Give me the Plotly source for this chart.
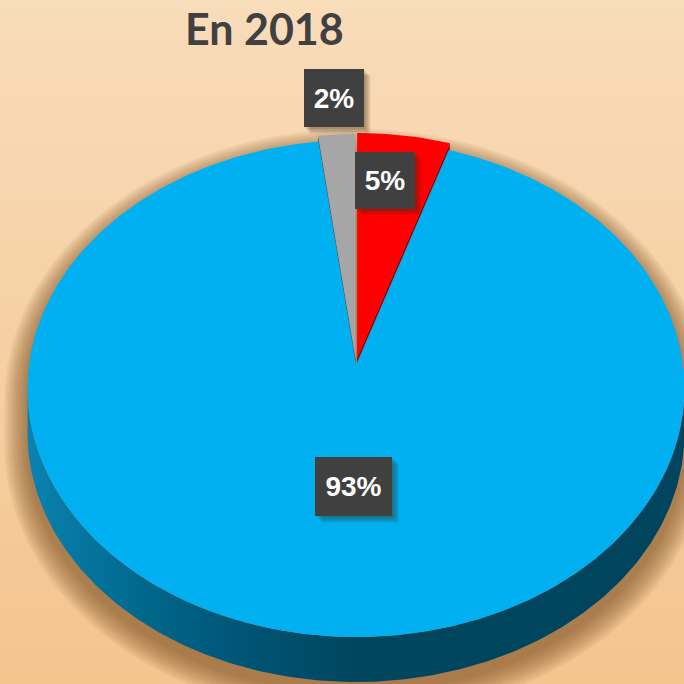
import numpy as np
import plotly.graph_objects as go

# ---- data ----
categories = ["Rouge", "Bleu", "Gris"]
values = [5, 93, 2]
label_texts = ["5%", "93%", "2%"]
colors = ["#ff0000", "#00b0f0", "#a6a6a6"]
side_colors = ["#9a0000", "#00455f", "#505050"]
title_text = "En 2018"

# ---- geometry / style (pixels, axes map 1:1 to pixels) ----
W = H = 684
CX, APEX_Y = 356, 365      # projected centre of the pie top
A, B, K = 327, 246.3, 0.0945  # perspective projection of the pie disc
DEPTH = 45
pulls = [7, 0, 6]
label_r = [0.818, 0.473, 1.21]
label_dx = [-10, 13, 0]
box_w = [60, 77, 60]
box_h = [57, 59, 58]

fig = go.Figure()

# background gradient bands
top_c = np.array([249, 220, 186])
bot_c = np.array([244, 197, 143])
nb = 57
shapes = []
for i in range(nb):
    f = i / (nb - 1)
    c = top_c + (bot_c - top_c) * f
    shapes.append(dict(type="rect", xref="x", yref="y", layer="below",
                       x0=0, x1=W, y0=i * H / nb, y1=(i + 1) * H / nb + 1,
                       fillcolor="rgb(%d,%d,%d)" % tuple(c.astype(int)), line_width=0))


def proj(t, r=1.0, a=A, b=B, cy=APEX_Y):
    u, v = r * np.sin(t), r * np.cos(t)
    s = 1.0 / (1.0 + K * v)
    return CX + a * u * s, cy - b * v * s


t_l = np.arccos(-K)            # silhouette angles (right / left extremes)
t_r = 2 * np.pi - t_l

# soft shadow around the pie
for k in range(12):
    e = 1 + 2.0 * k
    dy = 10
    t_top = np.linspace(t_r, t_l + 2 * np.pi, 160)
    t_bot = np.linspace(t_l, t_r, 160)
    x1, y1 = proj(t_top, 1.0, A + e, B + e, APEX_Y + dy)
    x2, y2 = proj(t_bot, 1.0, A + e, B + e, APEX_Y + dy + DEPTH)
    fig.add_trace(go.Scatter(x=np.r_[x2, x1], y=np.r_[y2, y1], mode="lines", fill="toself",
                             fillcolor="rgba(120,75,30,0.065)", line=dict(width=0),
                             hoverinfo="skip", showlegend=False))

fr = np.array(values, dtype=float) / np.sum(values)
ends = np.cumsum(fr) * 2 * np.pi
starts = ends - fr * 2 * np.pi
mids = (starts + ends) / 2


def offset(i):
    return pulls[i] * np.sin(mids[i]), -pulls[i] * np.cos(mids[i])


# front side (extrusion) of slices
for i in range(len(values)):
    a0 = max(starts[i], t_l)
    a1 = min(ends[i], t_r)
    if a1 <= a0:
        continue
    t = np.linspace(a0, a1, 220)
    ox, oy = offset(i)
    xt, yt = proj(t)
    xs = np.r_[xt, xt[::-1]] + ox
    ys = np.r_[yt, yt[::-1] + DEPTH] + oy
    fig.add_trace(go.Scatter(
        x=xs, y=ys, mode="lines", fill="toself", line=dict(width=0),
        fillgradient=dict(type="horizontal",
                          colorscale=[[0, "#0a82b0"], [0.18, "#00678b"], [0.35, "#005272"],
                                      [0.5, "#00465f"], [1, "#00445d"]]),
        hoverinfo="skip", showlegend=False))

# radial edge faces of exploded slices (thin dark slivers)
for i in range(len(values)):
    if pulls[i] == 0:
        continue
    ox, oy = offset(i)
    edge_t = ends[i] if np.sin(mids[i]) > 0 else starts[i]
    ex, ey = proj(edge_t)
    xs = np.array([CX, ex, ex, CX]) + ox
    ys = np.array([APEX_Y, ey, ey + DEPTH * 0.35, APEX_Y + DEPTH * 0.35]) + oy
    fig.add_trace(go.Scatter(x=xs, y=ys, mode="lines", fill="toself",
                             fillcolor=side_colors[i], line=dict(width=0),
                             hoverinfo="skip", showlegend=False))

# top faces: big slice first, then exploded ones
order = sorted(range(len(values)), key=lambda i: pulls[i])
for i in order:
    t = np.linspace(starts[i], ends[i], max(20, int(400 * fr[i])))
    ox, oy = offset(i)
    xt, yt = proj(t)
    xs = np.r_[CX, xt, CX] + ox
    ys = np.r_[APEX_Y, yt, APEX_Y] + oy
    fig.add_trace(go.Scatter(x=xs, y=ys, mode="lines", fill="toself",
                             fillcolor=colors[i], line=dict(width=0),
                             name=categories[i], hoverinfo="skip", showlegend=False))

# labels
annotations = []
for i in range(len(values)):
    lx, ly = proj(mids[i], label_r[i])
    lx = lx + label_dx[i]
    for s in range(4):
        d = 2 + s * 1.5
        shapes.append(dict(type="rect", xref="x", yref="y", layer="above",
                           x0=lx - box_w[i] / 2 + d, x1=lx + box_w[i] / 2 + d,
                           y0=ly - box_h[i] / 2 + d, y1=ly + box_h[i] / 2 + d,
                           fillcolor="rgba(60,40,20,0.12)", line_width=0))
    annotations.append(dict(x=lx, y=ly, xref="x", yref="y", text="<b>%s</b>" % label_texts[i],
                            showarrow=False, bgcolor="#404040", width=box_w[i], height=box_h[i],
                            borderpad=0, borderwidth=0, xanchor="center", yanchor="middle",
                            font=dict(family="Liberation Sans, Arial", size=28, color="white")))

annotations.append(dict(x=264.5, y=28, xref="x", yref="y", text="<b>%s</b>" % title_text,
                        showarrow=False, xanchor="center", yanchor="middle",
                        font=dict(family="Lato", size=43, color="#404040")))

fig.update_layout(
    width=W, height=H, margin=dict(l=0, r=0, t=0, b=0),
    paper_bgcolor="#f8d7b0", plot_bgcolor="rgba(0,0,0,0)",
    xaxis=dict(range=[0, W], visible=False, fixedrange=True),
    yaxis=dict(range=[H, 0], visible=False, fixedrange=True),
    shapes=shapes, annotations=annotations, showlegend=False,
)

fig.write_html("out.html", config={"displayModeBar": False},
               post_script="document.body.style.margin='0';document.body.style.overflow='hidden';")
